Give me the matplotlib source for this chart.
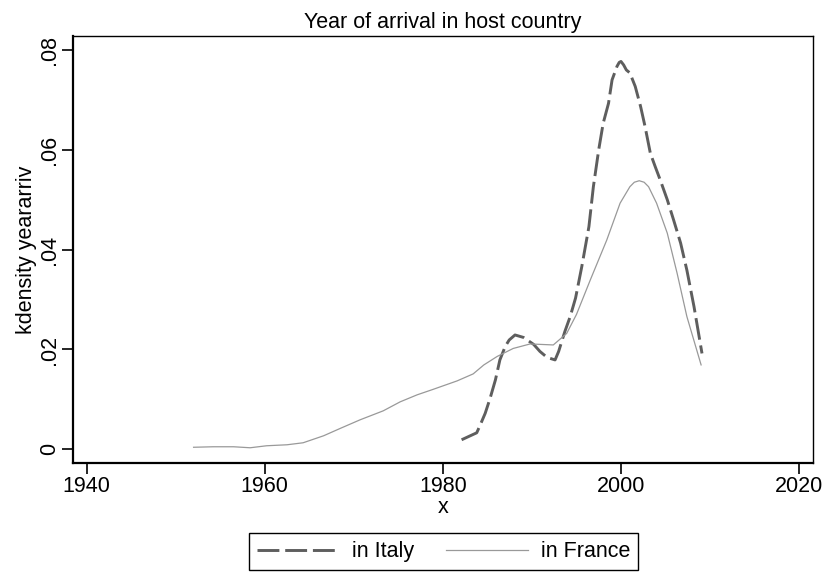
import matplotlib
matplotlib.use("Agg")
import matplotlib.pyplot as plt

plt.rcParams['font.family'] = ['Liberation Sans', 'DejaVu Sans']

# kernel density of year of arrival
italy_year = [1982.1, 1983.8, 1984.2, 1984.75, 1985.3, 1985.9, 1986.4, 1987.0, 1987.45,
              1988.1, 1989.06, 1990.2, 1990.9, 1991.7, 1992.6, 1993.0, 1993.7, 1994.3,
              1994.9, 1995.6, 1996.4, 1996.9, 1997.5, 1998.0, 1998.6, 1999.0, 1999.55,
              1999.8, 2000.0, 2000.3, 2000.6, 2001.0, 2001.6, 2002.2, 2002.7, 2003.3,
              2003.85, 2004.4, 2005.2, 2005.9, 2006.7, 2007.4, 2008.2, 2009.1]
italy_dens = [0.0019, 0.0033, 0.0049, 0.0072, 0.0102, 0.0139, 0.0179, 0.0206, 0.0219,
              0.0229, 0.0224, 0.0210, 0.0196, 0.0184, 0.0179, 0.0196, 0.0236, 0.0266,
              0.0303, 0.0366, 0.0446, 0.0526, 0.0600, 0.0653, 0.0693, 0.0740, 0.0767,
              0.0775, 0.0777, 0.0770, 0.0760, 0.0754, 0.0727, 0.0687, 0.0647, 0.0593,
              0.0566, 0.0540, 0.0500, 0.0460, 0.0413, 0.0359, 0.0286, 0.0192]

france_year = [1952.0, 1954.2, 1956.5, 1958.35, 1960.2, 1962.5, 1964.3, 1966.6, 1968.5,
               1970.7, 1973.3, 1975.2, 1977.1, 1978.9, 1981.6, 1983.4, 1984.6, 1986.1,
               1987.9, 1989.8, 1992.4, 1993.9, 1995.0, 1996.55, 1998.4, 1999.9, 2001.0,
               2001.5, 2002.05, 2002.6, 2003.1, 2004.0, 2005.2, 2006.3, 2007.4, 2009.0]
france_dens = [0.0004, 0.0005, 0.0005, 0.0003, 0.0007, 0.0009, 0.0013, 0.0027, 0.0042,
               0.0059, 0.0077, 0.0095, 0.0109, 0.0120, 0.0137, 0.0151, 0.0169, 0.0186,
               0.0202, 0.0211, 0.0209, 0.0232, 0.0270, 0.0339, 0.0419, 0.0493, 0.0526,
               0.0535, 0.0538, 0.0535, 0.0526, 0.0493, 0.0433, 0.0353, 0.0266, 0.0169]

x_ticks = [1940, 1960, 1980, 2000, 2020]
y_ticks = [0, 0.02, 0.04, 0.06, 0.08]
y_tick_labels = ['0', '.02', '.04', '.06', '.08']

fs = 15.5

fig = plt.figure(figsize=(8.26, 5.74), dpi=100)
ax = fig.add_axes([0.0884, 0.1934, 0.8959, 0.7439])

ax.plot(italy_year, italy_dens, color='#5e5e5e', lw=2.1, dashes=(7.5, 2),
        label='in Italy')
ax.plot(france_year, france_dens, color='#999999', lw=0.9, label='in France')

ax.set_xlim(1938.46, 2021.57)
ax.set_ylim(-0.00275, 0.0828)
ax.set_xticks(x_ticks)
ax.set_yticks(y_ticks)
ax.set_yticklabels(y_tick_labels, rotation=90, va='center')
ax.tick_params(direction='out', length=8, width=1.2, labelsize=fs, color='black')
ax.tick_params(axis='x', pad=1.5)
ax.tick_params(axis='y', pad=1.5)

for side in ['left', 'bottom']:
    ax.spines[side].set_linewidth(1.6)
for side in ['top', 'right']:
    ax.spines[side].set_linewidth(1.0)

ax.set_title('Year of arrival in host country', fontsize=fs, pad=6)
ax.set_xlabel('x', fontsize=fs, labelpad=0)
ax.set_ylabel('kdensity yeararriv', fontsize=fs, labelpad=1)

leg = fig.legend(loc='center', bbox_to_anchor=(0.537, 0.039), ncol=2, fontsize=fs,
                 frameon=True, fancybox=False, edgecolor='black', framealpha=1,
                 handlelength=3.8, handletextpad=0.6, columnspacing=1.5,
                 borderpad=0.38)
leg.get_frame().set_linewidth(1.0)

fig.savefig('out.png', dpi=100)
